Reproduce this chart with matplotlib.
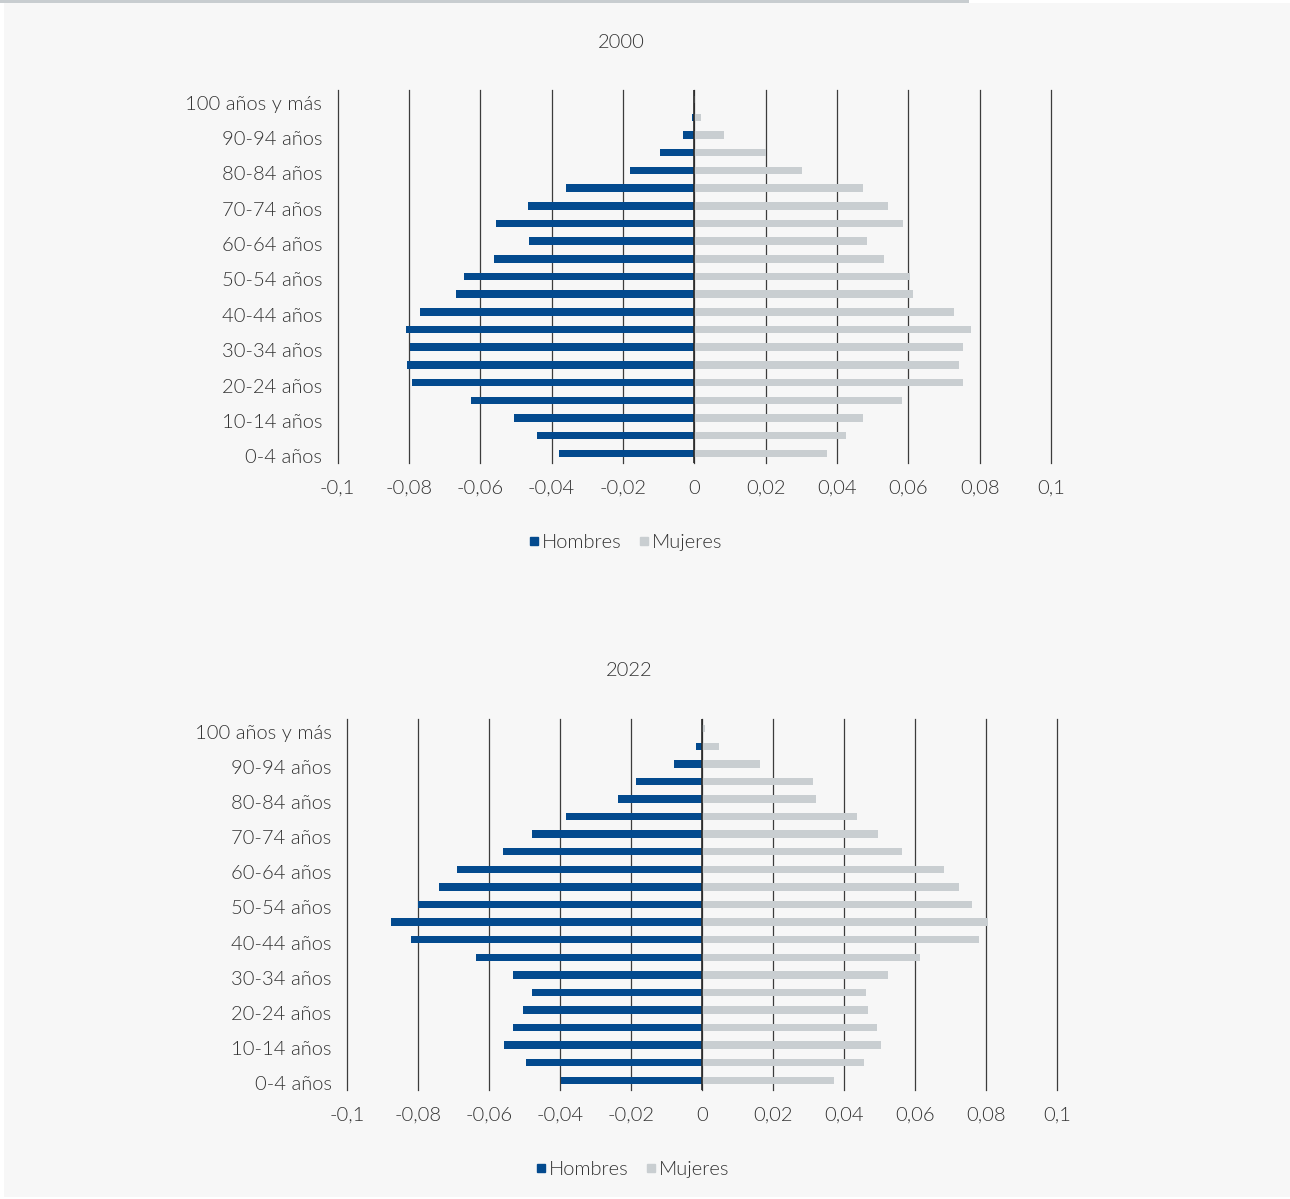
import matplotlib
matplotlib.use("Agg")
import matplotlib.pyplot as plt
from matplotlib.patches import Rectangle
from matplotlib.lines import Line2D
from matplotlib.transforms import ScaledTranslation

# age groups, bottom (0-4) to top (100+)
age_groups = ["0-4 años", "5-9 años", "10-14 años", "15-19 años", "20-24 años",
              "25-29 años", "30-34 años", "35-39 años", "40-44 años", "45-49 años",
              "50-54 años", "55-59 años", "60-64 años", "65-69 años", "70-74 años",
              "75-79 años", "80-84 años", "85-89 años", "90-94 años", "95-99 años",
              "100 años y más"]

# share of population, men negative
hombres_2000 = [-0.0380, -0.0442, -0.0504, -0.0627, -0.0790, -0.0805, -0.0798,
                -0.0809, -0.0769, -0.0668, -0.0646, -0.0561, -0.0462, -0.0557,
                -0.0466, -0.0359, -0.0180, -0.0097, -0.0032, -0.0005, -0.0001]
mujeres_2000 = [0.0371, 0.0424, 0.0473, 0.0581, 0.0754, 0.0743, 0.0753,
                0.0776, 0.0729, 0.0613, 0.0605, 0.0532, 0.0483, 0.0584,
                0.0543, 0.0474, 0.0302, 0.0201, 0.0082, 0.0020, 0.0002]

hombres_2022 = [-0.0396, -0.0497, -0.0557, -0.0531, -0.0504, -0.0479, -0.0531,
                -0.0637, -0.0819, -0.0876, -0.0800, -0.0741, -0.0690, -0.0560,
                -0.0479, -0.0384, -0.0238, -0.0186, -0.0080, -0.0017, -0.0001]
mujeres_2022 = [0.0371, 0.0456, 0.0504, 0.0493, 0.0468, 0.0461, 0.0524,
                0.0614, 0.0781, 0.0805, 0.0761, 0.0723, 0.0681, 0.0563,
                0.0497, 0.0437, 0.0322, 0.0313, 0.0164, 0.0049, 0.0008]

x_ticks = [-0.1, -0.08, -0.06, -0.04, -0.02, 0, 0.02, 0.04, 0.06, 0.08, 0.1]
x_labels = ["-0,1", "-0,08", "-0,06", "-0,04", "-0,02", "0",
            "0,02", "0,04", "0,06", "0,08", "0,1"]

AZUL = "#034a8e"
GRIS = "#c9ced1"
TEXTO = "#333333"
FONDO = "#f7f7f7"

plt.rcParams["font.family"] = ["Lato", "DejaVu Sans"]
plt.rcParams["font.weight"] = 300

fig = plt.figure(figsize=(12.9, 11.99), dpi=100, facecolor="white")

# panel background and the grey strip on top
fig.patches.append(Rectangle((4 / 1290, 2 / 1199), 1 - 4 / 1290, 1 - 5 / 1199,
                             transform=fig.transFigure, facecolor=FONDO,
                             edgecolor="none", zorder=-2))
fig.patches.append(Rectangle((0, 1 - 3 / 1199), 969 / 1290, 3 / 1199,
                             transform=fig.transFigure, facecolor="#c8cdd0",
                             edgecolor="none", zorder=-1))


def piramide(rect, hombres, mujeres, title, title_xy, legend_xy):
    ax = fig.add_axes(rect)
    ax.set_facecolor("none")
    y = list(range(len(age_groups)))
    ax.barh(y, hombres, height=0.42, color=AZUL, zorder=2)
    ax.barh(y, mujeres, height=0.42, color=GRIS, zorder=2)
    ax.set_xlim(-0.1, 0.1)
    ax.set_ylim(-0.55, 20.55)
    ax.set_xticks(x_ticks)
    ax.set_xticklabels(x_labels)
    for xv in x_ticks:
        ax.axvline(xv, color="#3c3c3c", lw=0.9, zorder=1, clip_on=False)
    ax.axvline(0, color="#2a2a2a", lw=1.2, zorder=3)
    ax.set_yticks(y[::2])
    ax.set_yticklabels(age_groups[::2])
    for s in ax.spines.values():
        s.set_visible(False)
    ax.tick_params(axis="both", length=0, labelsize=14.5, labelcolor=TEXTO)
    ax.tick_params(axis="x", pad=12)
    ax.tick_params(axis="y", pad=11)
    shift = ScaledTranslation(0, -3 / 100, fig.dpi_scale_trans)
    for lab in ax.get_yticklabels():
        lab.set_transform(lab.get_transform() + shift)
    fig.text(title_xy[0], title_xy[1], title, ha="center", va="center",
             fontsize=14.5, color=TEXTO)
    handles = [Line2D([], [], ls="none", marker="s", ms=6, color=AZUL),
               Line2D([], [], ls="none", marker="s", ms=6, color=GRIS)]
    fig.legend(handles, ["Hombres", "Mujeres"], loc="center",
               bbox_to_anchor=legend_xy, ncol=2, frameon=False, fontsize=14.5,
               handlelength=0.45, handletextpad=0.15, columnspacing=0.9,
               labelcolor=TEXTO)
    return ax


piramide([337.5 / 1290, 1 - 463 / 1199, (1051 - 337.5) / 1290, 373 / 1199],
         hombres_2000, mujeres_2000, "2000",
         (621 / 1290, 1 - 42 / 1199), (626 / 1290, 1 - 542 / 1199))
piramide([347 / 1290, 1 - 1090 / 1199, (1057 - 347) / 1290, 371 / 1199],
         hombres_2022, mujeres_2022, "2022",
         (629 / 1290, 1 - 671 / 1199), (633 / 1290, 1 - 1169 / 1199))

fig.savefig("out.png", dpi=100, facecolor=fig.get_facecolor())
